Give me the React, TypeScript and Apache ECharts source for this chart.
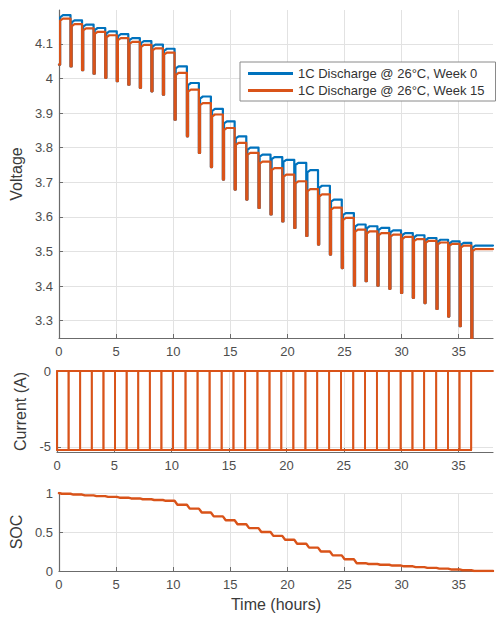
import React, { useEffect, useRef } from 'react';
import * as echarts from 'echarts';

// ---------- data ----------
const X_MAX = 38;
const timeTicks = [0, 5, 10, 15, 20, 25, 30, 35];
const voltageTicks = [3.3, 3.4, 3.5, 3.6, 3.7, 3.8, 3.9, 4.0, 4.1];
const currentTicks = [-5, 0];
const socTicks = [0, 0.5, 1];

const seriesNames = ['1C Discharge @ 26°C, Week 0', '1C Discharge @ 26°C, Week 15'];

// start time of each discharge pulse (hours)
const pulseTimes = [
  0, 1.01, 2.02, 3.03, 4.05, 5.06, 6.07, 7.08, 8.09, 9.1,
  10.12, 11.2, 12.25, 13.3, 14.35, 15.38, 16.4, 17.47, 18.52, 19.55,
  20.6, 21.65, 22.68, 23.72, 24.76, 25.82, 26.85, 27.88, 28.92, 29.95,
  30.98, 32.0, 33.05, 34.07, 35.08, 36.1,
];

// rest voltage reached after each pulse, Week 0
const week0Rest = [
  4.183, 4.168, 4.156, 4.146, 4.136, 4.128, 4.117, 4.108, 4.098, 4.086,
  4.035, 3.987, 3.948, 3.912, 3.876, 3.833, 3.8, 3.78, 3.773, 3.765,
  3.756, 3.735, 3.69, 3.65, 3.611, 3.578, 3.573, 3.568, 3.561, 3.553,
  3.547, 3.539, 3.534, 3.529, 3.525, 3.517,
];

// rest voltage reached after each pulse, Week 15
const week15Rest = [
  4.173, 4.157, 4.145, 4.135, 4.125, 4.117, 4.106, 4.097, 4.087, 4.075,
  4.016, 3.968, 3.929, 3.896, 3.857, 3.814, 3.785, 3.76, 3.741, 3.722,
  3.703, 3.68, 3.665, 3.627, 3.597, 3.563, 3.558, 3.553, 3.549, 3.542,
  3.536, 3.531, 3.526, 3.522, 3.517, 3.507,
];

// lowest voltage during each pulse
const pulseMinimum = [
  4.04, 4.035, 4.024, 4.014, 4.002, 3.992, 3.982, 3.973, 3.963, 3.953,
  3.881, 3.833, 3.785, 3.744, 3.708, 3.679, 3.65, 3.626, 3.607, 3.587,
  3.568, 3.545, 3.52, 3.491, 3.452, 3.401, 3.414, 3.401, 3.392, 3.38,
  3.366, 3.351, 3.334, 3.312, 3.284, 3.2,
];

const pulseCurrent = -5.2;

const socStart = 1.0;
const socAfterPulse = [
  0.99, 0.98, 0.97, 0.96, 0.95, 0.94, 0.93, 0.92, 0.91, 0.9,
  0.85, 0.8, 0.75, 0.7, 0.65, 0.6, 0.55, 0.5, 0.45, 0.4,
  0.35, 0.3, 0.25, 0.2, 0.15, 0.1, 0.09, 0.08, 0.07, 0.06,
  0.05, 0.04, 0.03, 0.02, 0.01, 0.0,
];

// ---------- drawing helpers (shape only) ----------
const PULSE_W = 0.1;
const RELAX_DV = 0.006;
const RELAX_DT = 0.25;
const SOC_RAMP = 0.25;

function buildVoltage(rest: number[], mins: number[]) {
  const pts: [number, number][] = [];
  for (let i = 0; i < pulseTimes.length; i++) {
    const t = pulseTimes[i];
    const tEnd = i + 1 < pulseTimes.length ? pulseTimes[i + 1] : X_MAX;
    pts.push([t, mins[i]]);
    pts.push([t + PULSE_W, mins[i]]);
    pts.push([t + PULSE_W, rest[i] - RELAX_DV]);
    pts.push([t + PULSE_W + RELAX_DT, rest[i]]);
    pts.push([tEnd, rest[i]]);
  }
  return pts;
}

function buildCurrent(phase: number) {
  const pts: [number, number][] = [];
  for (let i = 0; i < pulseTimes.length; i++) {
    const t = pulseTimes[i];
    if ((i + phase) % 2 === 0) {
      pts.push([t, 0], [t, pulseCurrent]);
    } else {
      pts.push([t, pulseCurrent], [t, 0]);
    }
  }
  const last = pts[pts.length - 1];
  if (last[1] === 0) pts.push([X_MAX, 0]);
  return pts;
}

function buildSoc() {
  const pts: [number, number][] = [[0, socStart]];
  for (let i = 0; i < pulseTimes.length; i++) {
    const t = pulseTimes[i];
    if (i > 0) pts.push([t, socAfterPulse[i - 1]]);
    pts.push([t + SOC_RAMP, socAfterPulse[i]]);
  }
  pts.push([X_MAX, socAfterPulse[socAfterPulse.length - 1]]);
  return pts;
}

const FONT = '"Liberation Sans", Arial, Helvetica, sans-serif';
const BLUE = '#0072BD';
const ORANGE = '#D95319';
const AXIS_COLOR = '#6b6b6b';
const LABEL_COLOR = '#4d4d4d';
const NAME_COLOR = '#3a3a3a';
const GRID_COLOR = '#e2e2e2';

function xAxis(gridIndex: number, name?: string) {
  return {
    type: 'value',
    gridIndex,
    min: 0,
    max: X_MAX,
    name: name || '',
    nameLocation: 'middle',
    nameGap: 25,
    nameTextStyle: { color: NAME_COLOR, fontSize: 16, fontFamily: FONT },
    axisLine: { show: true, onZero: false, lineStyle: { color: AXIS_COLOR, width: 1.2 } },
    axisTick: { show: true, inside: true, length: 4, lineStyle: { color: AXIS_COLOR }, customValues: timeTicks },
    axisLabel: { color: LABEL_COLOR, fontSize: 13, fontFamily: FONT, margin: 7, customValues: timeTicks },
    splitLine: { show: true, lineStyle: { color: GRID_COLOR, width: 1 } },
  };
}

function yAxis(gridIndex: number, name: string, nameGap: number, min: number, max: number, ticks: number[]) {
  return {
    type: 'value',
    gridIndex,
    name,
    min,
    max,
    nameLocation: 'middle',
    nameGap,
    nameTextStyle: { color: NAME_COLOR, fontSize: 16, fontFamily: FONT },
    axisLine: { show: true, onZero: false, lineStyle: { color: AXIS_COLOR, width: 1.2 } },
    axisTick: { show: true, inside: true, length: 4, lineStyle: { color: AXIS_COLOR }, customValues: ticks },
    axisLabel: { color: LABEL_COLOR, fontSize: 13, fontFamily: FONT, margin: 6, customValues: ticks },
    splitLine: { show: true, lineStyle: { color: GRID_COLOR, width: 1 } },
  };
}

export default function App() {
  const ref = useRef<HTMLDivElement>(null);

  useEffect(() => {
    if (!ref.current) return;
    const chart = echarts.init(ref.current, undefined, { renderer: 'svg' });
    const lineStyle = (color: string, width = 2) => ({ color, width, join: 'round', cap: 'round' });
    const line = (name: string, data: [number, number][], idx: number, color: string, width: number) => ({
      name,
      type: 'line',
      xAxisIndex: idx,
      yAxisIndex: idx,
      data,
      showSymbol: false,
      symbol: 'none',
      lineStyle: lineStyle(color, width),
      itemStyle: { color },
    });

    chart.setOption({
      animation: false,
      backgroundColor: '#ffffff',
      grid: [
        { left: 57, right: 3, top: 10, height: 328 },
        { left: 57, right: 3, top: 371, height: 81 },
        { left: 57, right: 3, top: 493, height: 78 },
      ],
      legend: {
        data: seriesNames,
        orient: 'vertical',
        left: 240,
        top: 62,
        icon: 'rect',
        itemWidth: 45,
        itemHeight: 3,
        itemGap: 2,
        padding: [4, 11, 3, 8],
        borderColor: '#8a8a8a',
        borderWidth: 1,
        backgroundColor: '#ffffff',
        textStyle: { color: '#333', fontSize: 13, fontFamily: FONT, lineHeight: 15 },
      },
      xAxis: [xAxis(0), xAxis(1), xAxis(2, 'Time (hours)')],
      yAxis: [
        yAxis(0, 'Voltage', 31, 3.25, 4.198, voltageTicks),
        yAxis(1, 'Current (A)', 27, -5.33, 0, currentTicks),
        yAxis(2, 'SOC', 27, 0, 1, socTicks),
      ],
      series: [
        line(seriesNames[0], buildVoltage(week0Rest, pulseMinimum), 0, BLUE, 2.2),
        line(seriesNames[1], buildVoltage(week15Rest, pulseMinimum), 0, ORANGE, 2.2),
        line('Current A', buildCurrent(0), 1, ORANGE, 1.8),
        line('Current B', buildCurrent(1), 1, ORANGE, 1.8),
        line('SOC', buildSoc(), 2, ORANGE, 2.4),
      ],
    });

    return () => chart.dispose();
  }, []);

  return (
    <div
      ref={ref}
      style={{ position: 'fixed', left: 0, top: 0, width: 496, height: 617, background: '#fff' }}
    />
  );
}
